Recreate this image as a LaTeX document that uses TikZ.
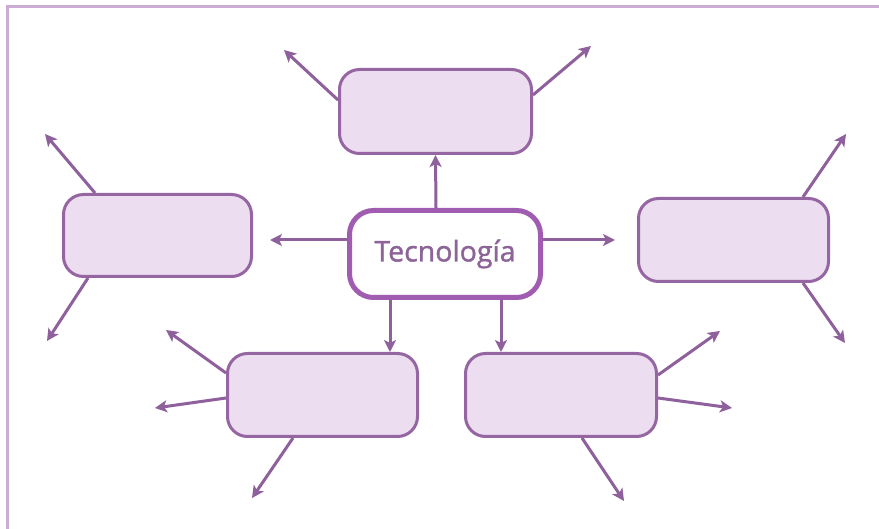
\documentclass[tikz,border=0pt]{standalone}
\usepackage{fontspec}
\setmainfont{Open Sans}
\newfontfamily\hubfont{Open Sans}[FakeBold=1.3]
\usetikzlibrary{arrows.meta}
\definecolor{frame}{RGB}{202,172,212}
\definecolor{boxline}{RGB}{150,102,162}
\definecolor{boxfill}{RGB}{236,222,240}
\definecolor{arr}{RGB}{142,96,156}
\definecolor{mainline}{RGB}{160,92,176}
\definecolor{maintext}{RGB}{140,100,152}
\tikzset{
  leaf/.style={draw=boxline, fill=boxfill, line width=3pt, rounded corners=20pt, inner sep=0pt},
  hub/.style={draw=mainline, fill=white, line width=5pt, rounded corners=24pt, inner sep=0pt,
    text=maintext, font=\hubfont\fontsize{28.5}{30}\selectfont},
  link/.style={draw=arr, line width=3pt, -{Stealth[length=12pt,width=12pt,inset=3pt]}},
}
\begin{document}
\begin{tikzpicture}[x=1pt,y=-1pt]
\useasboundingbox (0,0) rectangle (879,529);
\fill[white] (0,0) rectangle (879,529);
\draw[frame, line width=3pt] (7,529) -- (7,7) -- (879,7);

\node[hub, minimum width=191pt, minimum height=87pt] (C) at (445,254) {Tecnología};
\node[leaf, minimum width=192pt, minimum height=84pt] (T) at (435.5,111.5) {};
\node[leaf, minimum width=188pt, minimum height=82pt] (L) at (157.5,235.5) {};
\node[leaf, minimum width=190pt, minimum height=83pt] (R) at (733.5,240) {};
\node[leaf, minimum width=190pt, minimum height=83pt] (BL) at (322.5,395) {};
\node[leaf, minimum width=191pt, minimum height=83pt] (BR) at (561,395) {};

% free ends
\coordinate (tL) at (270,240);
\coordinate (tR) at (615,240);
\coordinate (t1) at (284,50);
\coordinate (t2) at (591,46);
\coordinate (l1) at (45,134);
\coordinate (l2) at (47,341);
\coordinate (r1) at (846,134);
\coordinate (r2) at (845,343);
\coordinate (bl1) at (166,330);
\coordinate (bl2) at (155,408);
\coordinate (bl3) at (252,498);
\coordinate (br1) at (720,331);
\coordinate (br2) at (732,408);
\coordinate (br3) at (624,501);

% from the hub
\draw[link] ([xshift=-9pt]C.north) -- (T.south);
\draw[link] ([yshift=14pt]C.west) -- (tL);
\draw[link] ([yshift=14pt]C.east) -- (tR);
\draw[link] ([xshift=-55pt]C.south) -- ([xshift=67.5pt]BL.north);
\draw[link] ([xshift=56pt]C.south) -- ([xshift=-60pt]BR.north);

% top box
\draw[link] ([yshift=11.5pt]T.west) -- (t1);
\draw[link] ([yshift=16.5pt]T.east) -- (t2);
% left box
\draw[link] ([xshift=-62.5pt]L.north) -- (l1);
\draw[link] ([xshift=-69.5pt]L.south) -- (l2);
% right box
\draw[link] ([xshift=69.5pt]R.north) -- (r1);
\draw[link] ([xshift=69.5pt]R.south) -- (r2);
% bottom-left box
\draw[link] ([yshift=22pt]BL.west) -- (bl1);
\draw[link] ([yshift=-3pt]BL.west) -- (bl2);
\draw[link] ([xshift=-29.5pt]BL.south) -- (bl3);
% bottom-right box
\draw[link] ([yshift=20pt]BR.east) -- (br1);
\draw[link] ([yshift=-3pt]BR.east) -- (br2);
\draw[link] ([xshift=21pt]BR.south) -- (br3);
\end{tikzpicture}
\end{document}
